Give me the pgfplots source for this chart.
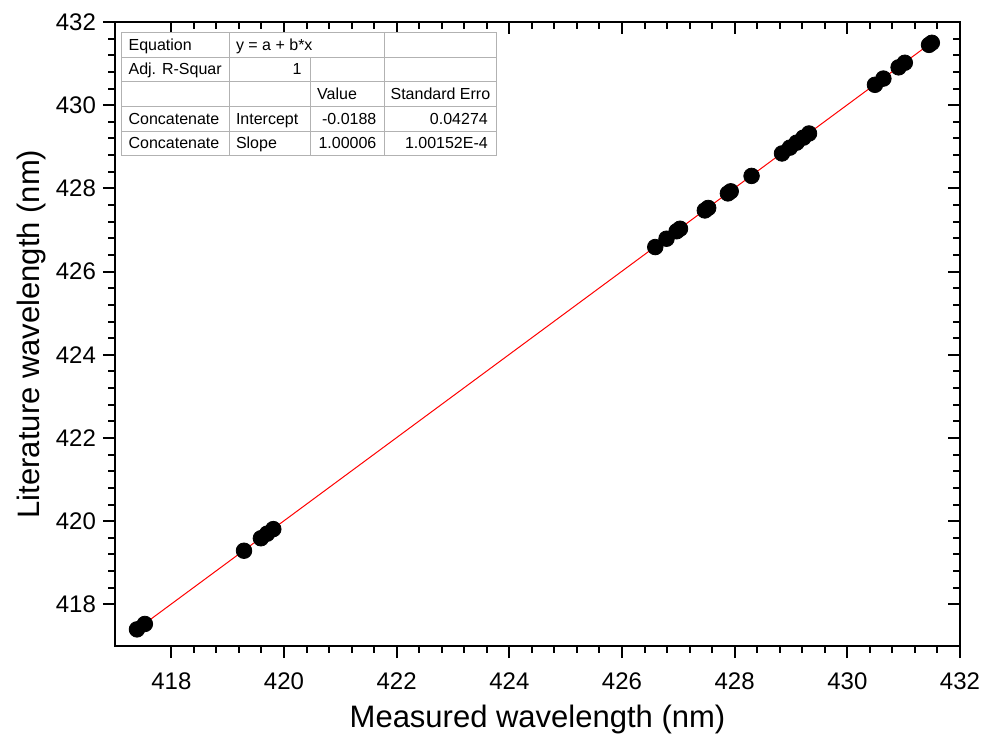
\documentclass[border=0pt]{standalone}
\usepackage{fontspec}
\setmainfont{Liberation Sans}
\usepackage{pgfplots}
\pgfplotsset{compat=1.18}

\pgfplotsset{
  frame/.style={
    scale only axis, width=422.5pt, height=312pt,
    at={(0,0)}, anchor=south west,
    xmin=417, xmax=432, ymin=417, ymax=432,
    xtick={418,420,...,432}, ytick={418,420,...,432},
    minor x tick num=4, minor y tick num=4,
    major tick length=6pt, minor tick length=3.3pt,
    tick style={line width=1pt,black},
  },
}

\begin{document}
\begin{tikzpicture}
\useasboundingbox (-57.5pt,-46pt) rectangle (434.5pt,323pt);

% mirrored ticks on top and right, pointing in
\begin{axis}[frame,
  tick align=inside, xtick pos=right, ytick pos=right,
  xticklabels={}, yticklabels={},
  axis line style={draw=none},
]
\end{axis}

\begin{axis}[frame,
  tick align=outside, xtick pos=left, ytick pos=left,
  axis line style={line width=1.3pt},
  ticklabel style={font=\fontsize{12}{14}\selectfont},
  xticklabel style={yshift=-4pt},
  /pgf/number format/assume math mode=true,
  xlabel={Measured wavelength (nm)},
  ylabel={Literature wavelength (nm)},
  label style={font=\fontsize{15.5}{18}\selectfont},
  xlabel style={at={(axis description cs:0.5,-0.1314)},anchor=base},
  ylabel style={at={(axis description cs:-0.0888,0.5)},anchor=base},
  clip=false,
]
\addplot[red,line width=0.5pt] coordinates {(417.39,417.40) (431.50,431.51)};
\addplot[only marks,mark=*,mark size=3.9pt,black] coordinates {
  (417.39,417.40) (417.53,417.53)
  (419.29,419.29) (419.59,419.59) (419.70,419.70) (419.81,419.81)
  (426.59,426.59) (426.79,426.79) (426.97,426.97) (427.03,427.03)
  (427.47,427.47) (427.53,427.53) (427.88,427.88) (427.93,427.93)
  (428.30,428.30)
  (428.84,428.84) (428.98,428.98) (429.10,429.10) (429.22,429.22) (429.32,429.32)
  (430.49,430.49) (430.64,430.64) (430.91,430.91) (431.02,431.02)
  (431.45,431.45) (431.50,431.50)
};
\end{axis}

% fit result table
\begin{scope}[font=\fontsize{8}{9.6}\selectfont]
\fill[white] (3.35pt,245.15pt) rectangle (190.85pt,306.65pt);
\draw[gray!60,line width=0.5pt] (3.35pt,245.15pt) rectangle (190.85pt,306.65pt);
\foreach \y in {294.35,282.05,269.75,257.45}
  \draw[gray!60,line width=0.5pt] (3.35pt,\y pt) -- (190.85pt,\y pt);
\draw[gray!60,line width=0.5pt] (57.15pt,245.15pt) -- (57.15pt,306.65pt);
\draw[gray!60,line width=0.5pt] (97.85pt,245.15pt) -- (97.85pt,294.35pt);
\draw[gray!60,line width=0.5pt] (134.5pt,245.15pt) -- (134.5pt,306.65pt);
% row 1
\node[anchor=mid west,inner sep=0pt] at (6.6pt,300.5pt) {Equation};
\node[anchor=mid west,inner sep=0pt] at (60.3pt,300.5pt) {y = a + b*x};
% row 2
\node[anchor=mid west,inner sep=0pt] at (6.6pt,288.2pt) {Adj. R-Squar};
\node[anchor=mid east,inner sep=0pt] at (93.4pt,288.2pt) {1};
% row 3
\node[anchor=mid west,inner sep=0pt] at (100.9pt,275.9pt) {Value};
\node[anchor=mid west,inner sep=0pt] at (137.6pt,275.9pt) {Standard Erro};
% row 4
\node[anchor=mid west,inner sep=0pt] at (6.6pt,263.6pt) {Concatenate};
\node[anchor=mid west,inner sep=0pt] at (60.3pt,263.6pt) {Intercept};
\node[anchor=mid east,inner sep=0pt] at (130.9pt,263.6pt) {-0.0188};
\node[anchor=mid east,inner sep=0pt] at (186.6pt,263.6pt) {0.04274};
% row 5
\node[anchor=mid west,inner sep=0pt] at (6.6pt,251.3pt) {Concatenate};
\node[anchor=mid west,inner sep=0pt] at (60.3pt,251.3pt) {Slope};
\node[anchor=mid east,inner sep=0pt] at (130.9pt,251.3pt) {1.00006};
\node[anchor=mid east,inner sep=0pt] at (186.6pt,251.3pt) {1.00152E-4};
\end{scope}
\end{tikzpicture}
\end{document}
